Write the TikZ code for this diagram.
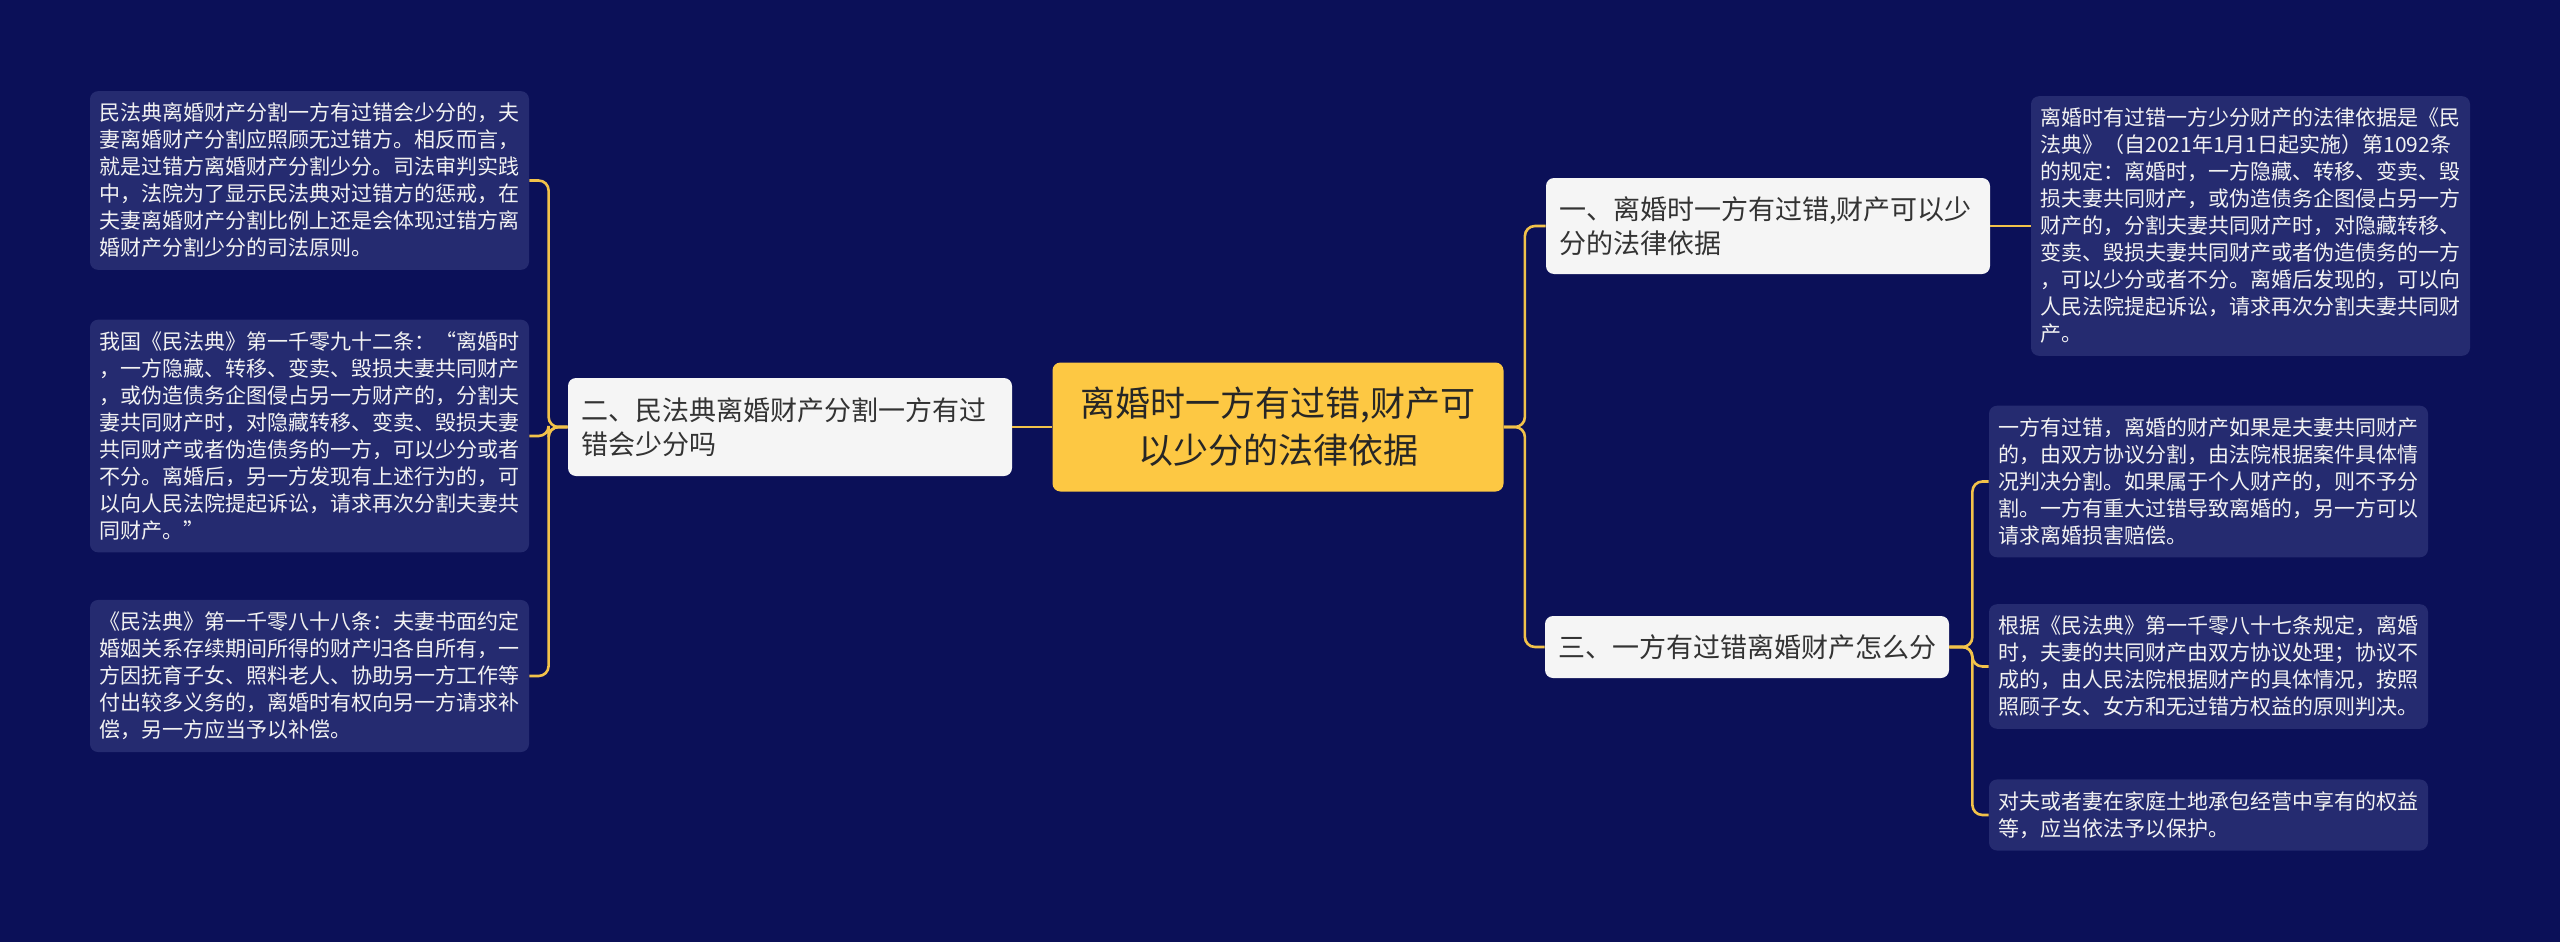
\documentclass[tikz,border=0pt]{standalone}
\usepackage{fontspec}
\setmainfont{Noto Sans CJK SC}
\usepackage{tikz}
\usetikzlibrary{positioning}
\usepackage{xcolor}

\definecolor{bgnavy}{HTML}{0B1058}
\definecolor{leafblue}{HTML}{252B70}
\definecolor{rootgold}{HTML}{FDC843}
\definecolor{linkgold}{HTML}{F2C24A}
\definecolor{topicgray}{HTML}{F5F5F5}

\begin{document}
\begin{tikzpicture}[
    x=0.5pt, y=-0.5pt,
    box/.style={rectangle, rounded corners=4pt, align=left},
    root/.style={box, fill=rootgold, text=black!85, align=center, minimum width=225.5pt,
                 minimum height=64.5pt, font=\fontsize{17.5pt}{23.5pt}\selectfont},
    topic/.style={box, fill=topicgray, text=black!80, inner xsep=6.5pt, inner ysep=8pt,
                  font=\fontsize{13.5pt}{17pt}\selectfont},
    leaf/.style={box, fill=leafblue, text=white!95!black, text width=210pt, inner xsep=4.75pt,
                 inner ysep=6pt, font=\fontsize{10.5pt}{13.5pt}\selectfont},
    link/.style={draw=linkgold, line width=1.3pt, rounded corners=5pt}
  ]

  \fill[bgnavy] (0,0) rectangle (2560,942);

  % --- root ---
  \node[root] (ctr) at (1278,427) {离婚时一方有过错,财产可\\以少分的法律依据};

  % --- left branch ---
  \node[topic, text width=209pt, minimum height=49pt] (b2) at (790,427)
    {二、民法典离婚财产分割一方有过\\错会少分吗};
  \node[leaf] (l1) at (309.5,180.5)
    {民法典离婚财产分割一方有过错会少分的，夫\\妻离婚财产分割应照顾无过错方。相反而言，\\就是过错方离婚财产分割少分。司法审判实践\\中，法院为了显示民法典对过错方的惩戒，在\\夫妻离婚财产分割比例上还是会体现过错方离\\婚财产分割少分的司法原则。};
  \node[leaf] (l2) at (309.5,436)
    {我国《民法典》第一千零九十二条：“离婚时\\，一方隐藏、转移、变卖、毁损夫妻共同财产\\，或伪造债务企图侵占另一方财产的，分割夫\\妻共同财产时，对隐藏转移、变卖、毁损夫妻\\共同财产或者伪造债务的一方，可以少分或者\\不分。离婚后，另一方发现有上述行为的，可\\以向人民法院提起诉讼，请求再次分割夫妻共\\同财产。”};
  \node[leaf] (l3) at (309.5,676)
    {《民法典》第一千零八十八条：夫妻书面约定\\婚姻关系存续期间所得的财产归各自所有，一\\方因抚育子女、照料老人、协助另一方工作等\\付出较多义务的，离婚时有权向另一方请求补\\偿，另一方应当予以补偿。};

  % --- right branches ---
  \node[topic, text width=209pt, minimum height=48pt] (b1) at (1768,226)
    {一、离婚时一方有过错,财产可以少\\分的法律依据};
  \node[topic, minimum height=31pt] (b3) at (1747,647) {三、一方有过错离婚财产怎么分};

  \node[leaf] (r1) at (2250.5,226)
    {离婚时有过错一方少分财产的法律依据是《民\\法典》（自2021年1月1日起实施）第1092条\\的规定：离婚时，一方隐藏、转移、变卖、毁\\损夫妻共同财产，或伪造债务企图侵占另一方\\财产的，分割夫妻共同财产时，对隐藏转移、\\变卖、毁损夫妻共同财产或者伪造债务的一方\\，可以少分或者不分。离婚后发现的，可以向\\人民法院提起诉讼，请求再次分割夫妻共同财\\产。};
  \node[leaf] (r2) at (2208.5,481.5)
    {一方有过错，离婚的财产如果是夫妻共同财产\\的，由双方协议分割，由法院根据案件具体情\\况判决分割。如果属于个人财产的，则不予分\\割。一方有重大过错导致离婚的，另一方可以\\请求离婚损害赔偿。};
  \node[leaf] (r3) at (2208.5,666.5)
    {根据《民法典》第一千零八十七条规定，离婚\\时，夫妻的共同财产由双方协议处理；协议不\\成的，由人民法院根据财产的具体情况，按照\\照顾子女、女方和无过错方权益的原则判决。};
  \node[leaf] (r4) at (2208.5,815)
    {对夫或者妻在家庭土地承包经营中享有的权益\\等，应当依法予以保护。};

  % connectors
  \draw[link] (ctr.west) -- (b2.east);
  \draw[link] (b2.west) -- ++(-19,0) |- (l1.east);
  \draw[link] (b2.west) -- ++(-19,0) |- (l2.east);
  \draw[link] (b2.west) -- ++(-19,0) |- (l3.east);

  \draw[link] (ctr.east) -- ++(21,0) |- (b1.west);
  \draw[link] (ctr.east) -- ++(21,0) |- (b3.west);
  \draw[link] (b1.east) -- (r1.west);
  \draw[link] (b3.east) -- ++(23,0) |- (r2.west);
  \draw[link] (b3.east) -- ++(23,0) |- (r3.west);
  \draw[link] (b3.east) -- ++(23,0) |- (r4.west);
\end{tikzpicture}
\end{document}
